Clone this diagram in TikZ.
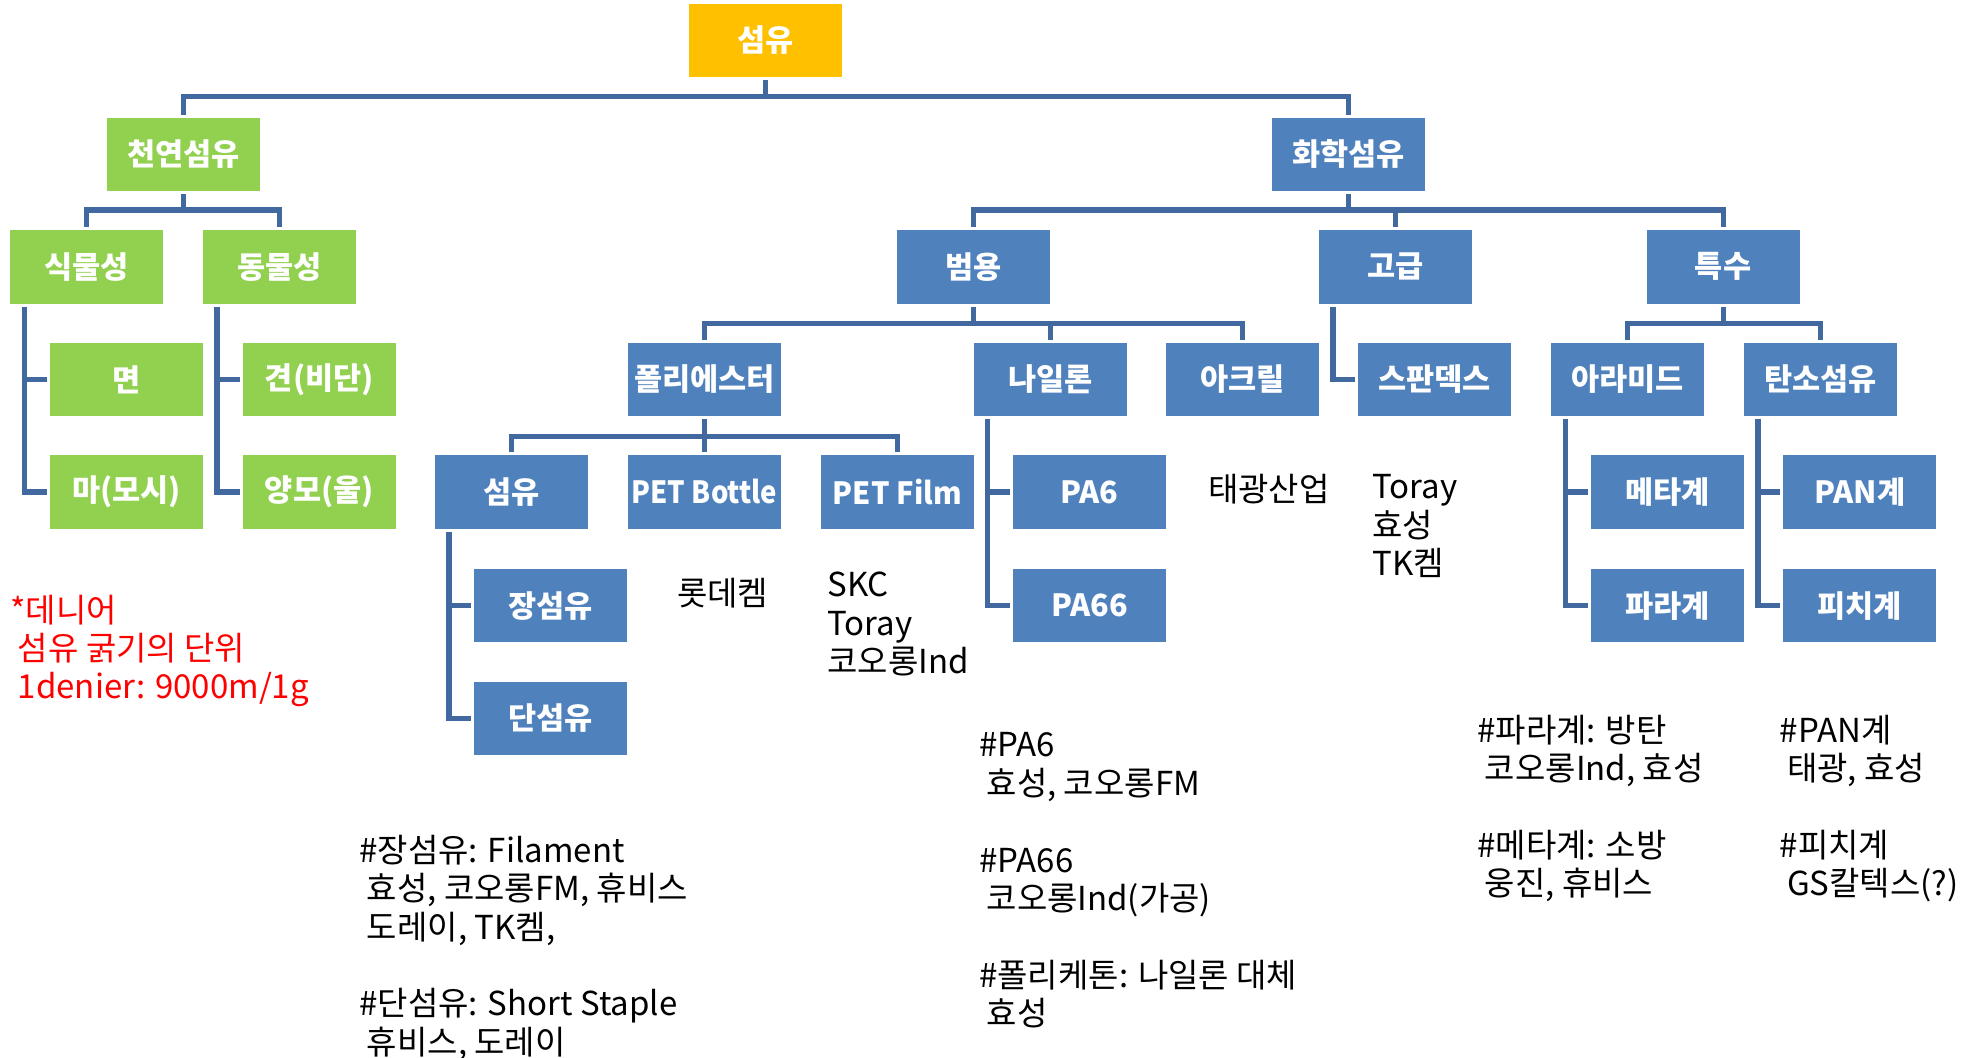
\documentclass[tikz,border=0pt]{standalone}
\usepackage{fontspec}
\setmainfont{Noto Sans CJK KR}
\definecolor{gfill}{HTML}{92D050}
\definecolor{ofill}{HTML}{FFC000}
\definecolor{bfill}{HTML}{4F81BD}
\definecolor{connc}{HTML}{4169A0}
\definecolor{redtxt}{HTML}{FF0000}
\begin{document}
\begin{tikzpicture}[x=0.63235pt,y=-0.63235pt,
  box/.style={minimum width=76.5pt,minimum height=36.7pt,inner sep=0pt,outer sep=1.5pt,text=white,font=\fontsize{15.3}{18}\selectfont\bfseries},
  gbox/.style={box,fill=gfill},
  bbox/.style={box,fill=bfill},
  obox/.style={box,fill=ofill},
  conn/.style={draw=connc,line width=2.6pt},
  note/.style={anchor=north west,align=left,inner sep=0pt,font=\fontsize{16.5}{19.2}\selectfont}]
\path[use as bounding box] (0,0) rectangle (1568,836);

% boxes
\node[obox] (root) at (605.5,32) {섬유};
\node[gbox] (nat) at (145,122) {천연섬유};
\node[bbox] (chem) at (1066.5,122) {화학섬유};
\node[gbox] (plant) at (68.5,211) {식물성};
\node[gbox] (animal) at (221,211) {동물성};
\node[gbox] (cotton) at (100,300) {면};
\node[gbox] (hemp) at (100,389) {마(모시)};
\node[gbox] (silk) at (252.5,300) {견(비단)};
\node[gbox] (wool) at (252.5,389) {양모(울)};
\node[bbox] (gen) at (769.5,211) {범용};
\node[bbox] (adv) at (1103.5,211) {고급};
\node[bbox] (spec) at (1362.5,211) {특수};
\node[bbox] (poly) at (557,300) {폴리에스터};
\node[bbox] (nylon) at (830.5,300) {나일론};
\node[bbox] (acryl) at (982.5,300) {아크릴};
\node[bbox] (spandex) at (1134.5,300) {스판덱스};
\node[bbox] (aramid) at (1287,300) {아라미드};
\node[bbox] (carbon) at (1439.5,300) {탄소섬유};
\node[bbox] (pfiber) at (404.5,389) {섬유};
\node[bbox] (bottle) at (557,389) {\scalebox{0.9}[1]{PET Bottle}};
\node[bbox] (film) at (709.5,389) {\scalebox{0.95}[1]{PET Film}};
\node[bbox] (pa6) at (861.5,389) {PA6};
\node[bbox] (pa66) at (861.5,479) {PA66};
\node[bbox] (meta) at (1318.5,389) {메타계};
\node[bbox] (para) at (1318.5,479) {파라계};
\node[bbox] (pan) at (1470.5,389) {PAN계};
\node[bbox] (pitch) at (1470.5,479) {피치계};
\node[bbox] (long) at (435.5,479) {장섬유};
\node[bbox] (short) at (435.5,568) {단섬유};

% tree connectors
\coordinate (b0) at (605.5,76);
\draw[conn] (root.south) -- (b0);
\draw[conn] (nat.north) |- (b0) -| (chem.north);
\coordinate (b1) at (145,166);
\draw[conn] (nat.south) -- (b1);
\draw[conn] (plant.north) |- (b1) -| (animal.north);
\coordinate (b2) at (1066.5,166);
\draw[conn] (chem.south) -- (b2);
\draw[conn] (gen.north) |- (b2) -| (spec.north);
\draw[conn] (adv.north) -- (adv.north |- b2);
\coordinate (b3) at (769.5,256);
\draw[conn] (gen.south) -- (b3);
\draw[conn] (poly.north) |- (b3) -| (acryl.north);
\draw[conn] (nylon.north) -- (nylon.north |- b3);
\coordinate (b4) at (1362.5,256);
\draw[conn] (spec.south) -- (b4);
\draw[conn] (aramid.north) |- (b4) -| (carbon.north);
\coordinate (b5) at (557,345);
\draw[conn] (poly.south) -- (bottle.north);
\draw[conn] (pfiber.north) |- (b5) -| (film.north);

% side connectors
\draw[conn] ([xshift=8.5pt]plant.south west) |- (hemp.west);
\draw[conn] (cotton.west) -- ++(-19.5,0);
\draw[conn] ([xshift=8.5pt]animal.south west) |- (wool.west);
\draw[conn] (silk.west) -- ++(-19.5,0);
\draw[conn] ([xshift=8.5pt]adv.south west) |- (spandex.west);
\draw[conn] ([xshift=8.5pt]pfiber.south west) |- (short.west);
\draw[conn] (long.west) -- ++(-19.5,0);
\draw[conn] ([xshift=8.5pt]nylon.south west) |- (pa66.west);
\draw[conn] (pa6.west) -- ++(-19.5,0);
\draw[conn] ([xshift=8.5pt]aramid.south west) |- (para.west);
\draw[conn] (meta.west) -- ++(-19.5,0);
\draw[conn] ([xshift=8.5pt]carbon.south west) |- (pitch.west);
\draw[conn] (pan.west) -- ++(-19.5,0);

% notes
\node[note] (lotte) at (535,457) {롯데켐};
\node[note] (skc) at (654,452) {SKC\\Toray\\코오롱Ind};
\node[note] (taek) at (955,375) {태광산업};
\node[note] (spx) at (1085,375) {Toray\\효성\\TK켐};
\node[note,text=redtxt] (denier) at (8,470) {*데니어\\\ 섬유 굵기의 단위\\\ 1denier: 9000m/1g};
\node[note] (fil) at (284,660) {\#장섬유: Filament\\\ 효성, 코오롱FM, 휴비스\\\ 도레이, TK켐,\\[19.2pt]\#단섬유: Short Staple\\\ 휴비스, 도레이};
\node[note] (panote) at (774,579) {\#PA6\\\ 효성, 코오롱FM\\[19.2pt]\#PA66\\\ 코오롱Ind(가공)\\[19.2pt]\#폴리케톤: 나일론 대체\\\ 효성};
\node[note] (paranote) at (1168,565) {\#파라계: 방탄\\\ 코오롱Ind, 효성\\[19.2pt]\#메타계: 소방\\\ 웅진, 휴비스};
\node[note] (pannote) at (1407,565) {\#PAN계\\\ 태광, 효성\\[19.2pt]\#피치계\\\ GS칼텍스(?)};
\end{tikzpicture}
\end{document}
